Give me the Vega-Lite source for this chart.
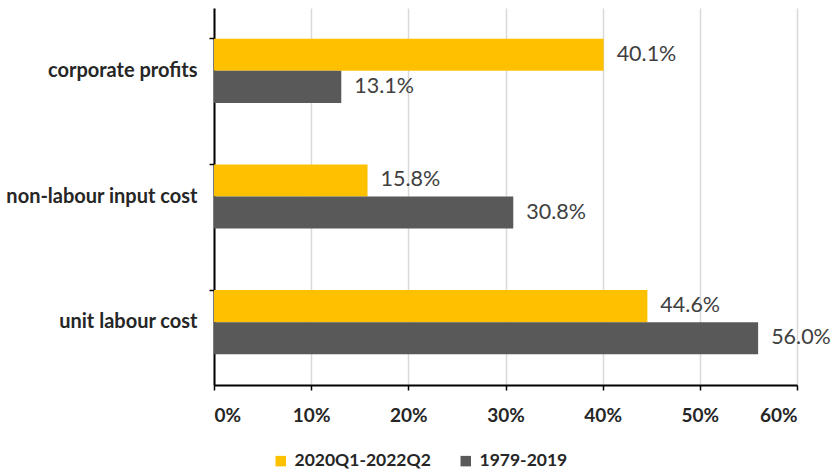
{
  "$schema": "https://vega.github.io/schema/vega-lite/v6.json",
  "width": 583,
  "height": 377,
  "autosize": {"type": "none"},
  "padding": {"left": 214, "top": 8, "right": 38, "bottom": 86},
  "background": "white",
  "config": {
    "view": {"stroke": null},
    "font": "Lato"
  },
  "data": {
    "values": [
      {"component": "corporate profits", "period": "2020Q1-2022Q2", "value": 40.1},
      {"component": "corporate profits", "period": "1979-2019", "value": 13.1},
      {"component": "non-labour input cost", "period": "2020Q1-2022Q2", "value": 15.8},
      {"component": "non-labour input cost", "period": "1979-2019", "value": 30.8},
      {"component": "unit labour cost", "period": "2020Q1-2022Q2", "value": 44.6},
      {"component": "unit labour cost", "period": "1979-2019", "value": 56.0}
    ]
  },
  "encoding": {
    "y": {
      "field": "component",
      "type": "nominal",
      "sort": ["corporate profits", "non-labour input cost", "unit labour cost"],
      "scale": {"paddingInner": 0.49, "paddingOuter": 0.245},
      "axis": {
        "title": null,
        "domainColor": "black",
        "domainWidth": 2,
        "tickColor": "black",
        "tickWidth": 1.5,
        "tickSize": 5,
        "bandPosition": 0,
        "labelFont": "Lato",
        "labelFontSize": 20,
        "labelFontWeight": "bold",
        "labelColor": "#262626",
        "labelPadding": 12,
        "labelLimit": 300,
        "grid": false
      }
    },
    "yOffset": {
      "field": "period",
      "type": "nominal",
      "sort": ["2020Q1-2022Q2", "1979-2019"]
    },
    "x": {
      "field": "value",
      "type": "quantitative",
      "scale": {"domain": [0, 60], "nice": false},
      "axis": {
        "title": null,
        "values": [0, 10, 20, 30, 40, 50, 60],
        "labelExpr": "datum.value + '%'",
        "domainColor": "black",
        "domainWidth": 2,
        "tickColor": "black",
        "tickWidth": 1.5,
        "tickSize": 5,
        "grid": true,
        "gridColor": "#d9d9d9",
        "gridWidth": 1.5,
        "labelFont": "Lato",
        "labelFontSize": 19,
        "labelFontWeight": "bold",
        "labelColor": "#262626",
        "labelPadding": 16
      }
    }
  },
  "layer": [
    {
      "mark": {"type": "bar"},
      "encoding": {
        "color": {
          "field": "period",
          "type": "nominal",
          "sort": ["2020Q1-2022Q2", "1979-2019"],
          "scale": {"domain": ["2020Q1-2022Q2", "1979-2019"], "range": ["#FFC000", "#595959"]},
          "legend": {
            "title": null,
            "orient": "none",
            "direction": "horizontal",
            "legendX": 58,
            "legendY": 444,
            "symbolType": "square",
            "symbolSize": 110,
            "symbolStrokeWidth": 0,
            "labelFont": "Lato",
            "labelFontSize": 17.5,
            "labelFontWeight": "bold",
            "labelColor": "#262626",
            "columnPadding": 26,
            "labelOffset": 5,
            "labelLimit": 300
          }
        }
      }
    },
    {
      "mark": {
        "type": "text",
        "align": "left",
        "baseline": "middle",
        "dx": 13,
        "fontSize": 21.5,
        "font": "Lato",
        "color": "#404040",
        "text": {"expr": "format(datum.value, '.1f') + '%'"}
      }
    }
  ]
}
